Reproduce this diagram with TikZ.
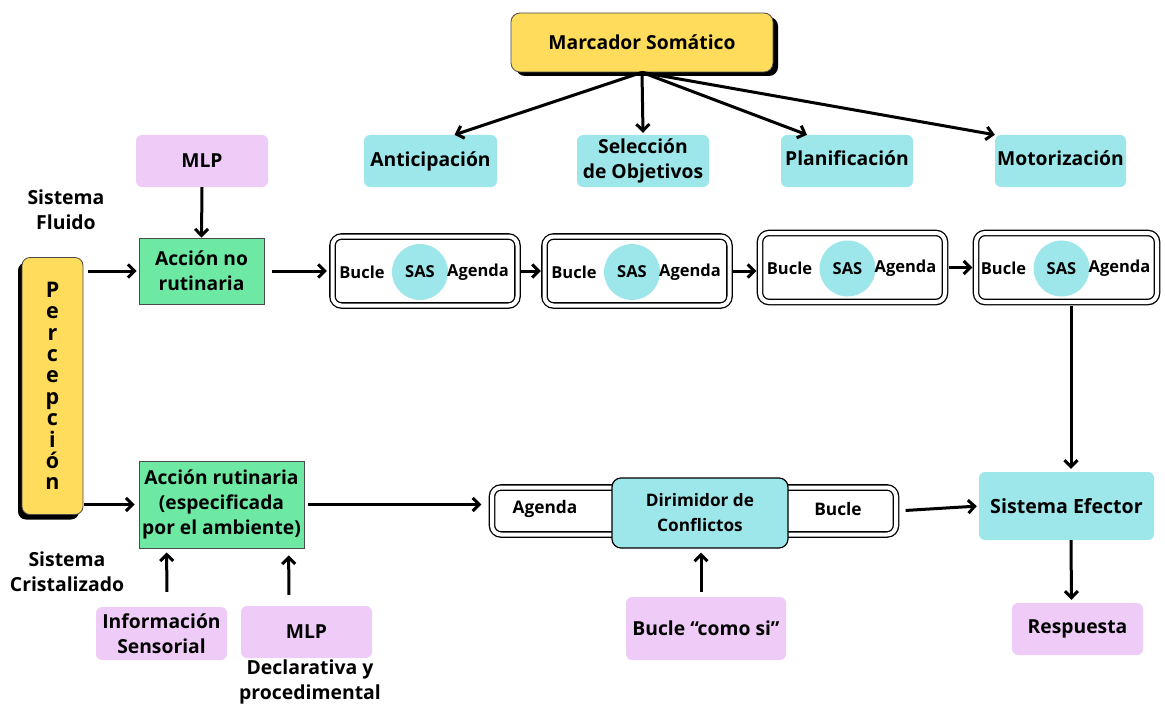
\documentclass[tikz,border=0pt]{standalone}
\usepackage{fontspec}
\setmainfont{Open Sans}
\usetikzlibrary{arrows.meta,calc,shadows}

\definecolor{cyanc}{HTML}{9DE7EB}
\definecolor{lilac}{HTML}{EFCCF7}
\definecolor{greenc}{HTML}{6DE9A3}
\definecolor{yellowc}{HTML}{FFDC5C}
\definecolor{edge}{HTML}{4A4A4A}

\newcommand\lbl[1]{\bfseries\fontsize{#1}{25}\selectfont}

\tikzset{
  box/.style={rounded corners=6pt, inner sep=0pt, align=center, font=\lbl{19.3}},
  cyanbox/.style={box, fill=cyanc},
  lilacbox/.style={box, fill=lilac},
  greenbox/.style={inner sep=0pt, align=center, font=\lbl{19.2}, fill=greenc, draw=edge, line width=0.8pt},
  yellowbox/.style={box, rounded corners=9pt, fill=yellowc, draw=edge, line width=0.8pt},
  frame/.style={draw=black, line width=1.3pt, double=white, double distance=4pt,
                rounded corners=9pt, inner sep=0pt},
  plain/.style={align=center, font=\lbl{19.4}},
  small/.style={font=\lbl{16.5}},
  sasdot/.style={circle, fill=cyanc, minimum size=56pt, inner sep=0pt, font=\lbl{16.5}},
  arr/.style={-{Straight Barb[length=6.5pt,width=13pt,line width=3pt]}, line width=3pt},
}

% one stage of the loop: double frame with Bucle / SAS / Agenda
\newcommand\sasstage[4]{%
  \node[frame, minimum width=#4, minimum height=69] (#1) at (#2,#3) {};
  \node[sasdot] (#1dot) at ($(#1)+(-5,1)$) {SAS};
  \node[small] (#1b) at ($(#1)+(-63,1)$) {Bucle};
  \node[small] (#1a) at ($(#1)+(53,1)$) {Agenda};
}

\begin{document}
\begin{tikzpicture}[x=1pt,y=-1pt]
\useasboundingbox (0,0) rectangle (1165,706);

% top of the figure
\node[yellowbox, minimum width=262, minimum height=59, font=\lbl{19.3},
      drop shadow={shadow xshift=5pt, shadow yshift=-4pt, opacity=1, fill=black}]
      (marc) at (642,42.5) {Marcador Somático};

\node[cyanbox, minimum width=133, minimum height=52] (anti)  at (430.5,161) {Anticipación};
\node[cyanbox, minimum width=132, minimum height=52] (selec) at (643,161) {Selección\\de Objetivos};
\node[cyanbox, minimum width=132, minimum height=52, text depth=6pt] (plan) at (847,161) {Planificación};
\node[cyanbox, minimum width=131, minimum height=52, text depth=6pt] (motor) at (1060.5,161) {Motorización};

\draw[arr] (marc.south) -- ($(anti.north)+(24,0)$);
\draw[arr] (marc.south) -- ($(selec.north)+(0,-2)$);
\draw[arr] (marc.south) -- ($(plan.north)+(-40,0)$);
\draw[arr] (marc.south) -- (motor.north west);

% fluid system row
\node[lilacbox, minimum width=132, minimum height=52] (mlp1) at (202,161) {MLP};
\node[plain] (fluido) at (66,210) {Sistema\\Fluido};
\node[greenbox, minimum width=125, minimum height=66] (accnr) at (201.5,271) {Acción no\\rutinaria};

\node[yellowbox, minimum width=61, minimum height=257, rounded corners=8pt,
      font=\bfseries\fontsize{21.5}{21.4}\selectfont,
      drop shadow={shadow xshift=-4pt, shadow yshift=-5pt, opacity=1, fill=black}]
      (perc) at (52.5,386) {P\\e\\r\\c\\e\\p\\c\\i\\ó\\n};

\sasstage{sasA}{425}{271}{185}
\sasstage{sasB}{637}{271}{185}
\sasstage{sasC}{852.5}{267.5}{185}
\sasstage{sasD}{1066.5}{267.5}{181}

\draw[arr] (mlp1.south) -- (accnr.north);
\draw[arr, shorten <=5pt, shorten >=2pt] (perc.east |- accnr.west) -- (accnr.west);
\draw[arr, shorten <=8pt, shorten >=5pt] (accnr.east) -- (accnr.east -| sasA.west);
\draw[arr, shorten <=3pt, shorten >=3pt] (sasA.east) -- (sasB.west);
\draw[arr, shorten <=3pt, shorten >=3pt] (sasB.east) -- (sasB.east -| sasC.west);
\draw[arr, shorten <=3pt, shorten >=3pt] (sasC.east) -- (sasD.west);

% crystallised system row
\node[greenbox, minimum width=165, minimum height=87] (accr) at (221.5,504.5)
     {Acción rutinaria\\(especificada\\por el ambiente)};
\node[plain] (crist) at (67,572) {Sistema\\Cristalizado};

\node[frame, minimum width=404, minimum height=47] (dirf) at (694,511) {};
\node[font=\lbl{17.3}] (dagenda) at (545,509) {Agenda};
\node[font=\lbl{17.3}] (dbucle) at (838,509) {Bucle};
\node[box, fill=cyanc, draw=black, line width=1.2pt, rounded corners=9pt, font=\lbl{17.2},
      minimum width=176, minimum height=70] (dirim) at (700,513) {Dirimidor de\\Conflictos};

\node[cyanbox, minimum width=175, minimum height=68, font=\lbl{19.6}] (efector) at (1066.5,506) {Sistema Efector};
\node[lilacbox, minimum width=131, minimum height=52] (resp) at (1077.5,629) {Respuesta};
\node[lilacbox, minimum width=160, minimum height=63] (comosi) at (706,628.5) {Bucle “como si”};
\node[lilacbox, minimum width=131, minimum height=53] (info) at (161.5,633.5) {Información\\Sensorial};
\node[lilacbox, minimum width=131, minimum height=52] (mlp2) at (306.5,632) {MLP};
\node[plain] (decl) at (310,682) {Declarativa y\\procedimental};

\draw[arr, shorten <=1pt, shorten >=4pt] (perc.east |- accr.west) -- (accr.west);
\draw[arr, shorten <=4pt, shorten >=10pt] (accr.east) -- (accr.east -| dirf.west);
\draw[arr, shorten <=9pt, shorten >=2pt] (dirf.east) -- (efector.west);
\draw[arr, shorten <=5pt, shorten >=4pt] ($(comosi.north)+(-5,0)$) -- ($(dirim.south)+(1,0)$);
\draw[arr, shorten <=15pt, shorten >=4pt] ($(info.north)+(5.5,0)$) -- ($(accr.south west)+(28,0)$);
\draw[arr, shorten <=11pt, shorten >=7pt] ($(mlp2.north)+(-17.5,0)$) -- ($(accr.south west)+(150,0)$);
\draw[arr, shorten <=3pt, shorten >=3pt] ($(sasD.south)+(4.5,0)$) -- ($(efector.north)+(4.5,0)$);
\draw[arr, shorten >=3pt] ($(efector.south)+(4.5,0)$) -- ($(resp.north)+(-6,0)$);
\end{tikzpicture}
\end{document}
